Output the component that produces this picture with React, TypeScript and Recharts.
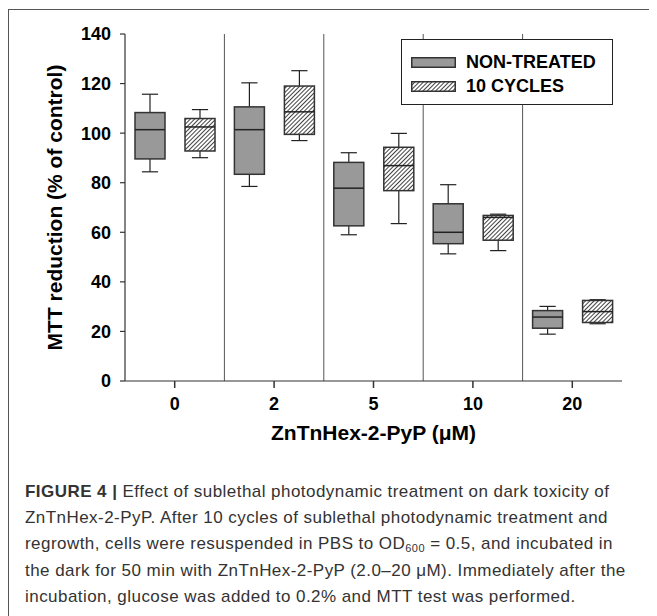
import React from 'react';
import {
  ComposedChart,
  Bar,
  XAxis,
  YAxis,
  ReferenceLine,
  Legend,
} from 'recharts';

// ---- data ----
const categories = ['0', '2', '5', '10', '20'];
const yTicks = [0, 20, 40, 60, 80, 100, 120, 140];

// NON-TREATED box statistics
const ntMin = [84.4, 78.5, 59.0, 51.3, 18.9];
const ntQ1 = [89.6, 83.4, 62.6, 55.4, 21.3];
const ntMed = [101.4, 101.4, 77.8, 60.0, 25.8];
const ntQ3 = [108.3, 110.6, 88.2, 71.5, 28.4];
const ntMax = [115.7, 120.3, 92.1, 79.2, 30.1];

// 10 CYCLES box statistics
const cyMin = [90.1, 97.0, 63.5, 52.6, 23.1];
const cyQ1 = [92.8, 99.5, 76.8, 56.8, 23.6];
const cyMed = [102.5, 108.6, 86.9, 66.0, 28.0];
const cyQ3 = [105.9, 119.0, 94.3, 66.8, 32.5];
const cyMax = [109.5, 125.2, 99.9, 67.3, 32.8];

// group separators sit at the start of these categories
const separatorCats = ['2', '5', '10', '20'];

const data = categories.map((c, i) => ({
  conc: c,
  nt: [ntMin[i], ntMax[i]],
  cy: [cyMin[i], cyMax[i]],
  ntStats: { min: ntMin[i], q1: ntQ1[i], med: ntMed[i], q3: ntQ3[i], max: ntMax[i] },
  cyStats: { min: cyMin[i], q1: cyQ1[i], med: cyMed[i], q3: cyQ3[i], max: cyMax[i] },
}));

const FONT = '"Liberation Sans", Arial, Helvetica, sans-serif';

const BoxShape = (props: any) => {
  const { x, y, width, height, payload, statsKey, fill } = props;
  const s = payload && payload[statsKey];
  if (!s) return null;
  const top = Math.min(y, y + height);
  const h = Math.abs(height);
  const range = s.max - s.min || 1;
  const yOf = (v: number) => top + ((s.max - v) / range) * h;
  const cx = x + width / 2;
  const capHalf = width * 0.27;
  const stroke = '#222';
  return (
    <g>
      <line x1={cx} x2={cx} y1={yOf(s.max)} y2={yOf(s.q3)} stroke={stroke} strokeWidth={1.2} />
      <line x1={cx} x2={cx} y1={yOf(s.q1)} y2={yOf(s.min)} stroke={stroke} strokeWidth={1.2} />
      <line x1={cx - capHalf} x2={cx + capHalf} y1={yOf(s.max)} y2={yOf(s.max)} stroke={stroke} strokeWidth={1.2} />
      <line x1={cx - capHalf} x2={cx + capHalf} y1={yOf(s.min)} y2={yOf(s.min)} stroke={stroke} strokeWidth={1.2} />
      <rect
        x={x}
        y={yOf(s.q3)}
        width={width}
        height={yOf(s.q1) - yOf(s.q3)}
        fill={fill}
        stroke="#333"
        strokeWidth={1.5}
      />
      <line x1={x} x2={x + width} y1={yOf(s.med)} y2={yOf(s.med)} stroke="#222" strokeWidth={1.5} />
    </g>
  );
};

const YLabel = (props: any) => {
  const vb = props.viewBox || {};
  const cx = vb.x + 46;
  const cy = vb.y + vb.height / 2;
  return (
    <text
      x={cx}
      y={cy}
      transform={`rotate(-90, ${cx}, ${cy})`}
      textAnchor="middle"
      dominantBaseline="central"
      fontFamily={FONT}
      fontWeight="bold"
      fontSize={21}
      fill="#000"
    >
      MTT reduction (% of control)
    </text>
  );
};

const XLabel = (props: any) => {
  const vb = props.viewBox || {};
  const cx = vb.x + vb.width / 2;
  const by = vb.y + 59;
  return (
    <text x={cx} y={by} textAnchor="middle" fontFamily={FONT} fontWeight="bold" fontSize={21} fill="#000">
      ZnTnHex-2-PyP (μM)
    </text>
  );
};

const LegendBox = () => (
  <div
    style={{
      width: 210,
      height: 64,
      border: '1.5px solid #222',
      background: '#fff',
      fontFamily: FONT,
      fontWeight: 'bold',
      fontSize: 18,
      color: '#000',
      position: 'relative',
    }}
  >
    <div style={{ position: 'absolute', left: 9, top: 11, display: 'flex', alignItems: 'center', height: 22 }}>
      <svg width={45} height={11} style={{ display: 'block' }}>
        <rect x={0.75} y={0.75} width={43.5} height={9.5} fill="#999" stroke="#333" strokeWidth={1.5} />
      </svg>
      <span style={{ marginLeft: 10 }}>NON-TREATED</span>
    </div>
    <div style={{ position: 'absolute', left: 9, top: 35, display: 'flex', alignItems: 'center', height: 22 }}>
      <svg width={45} height={11} style={{ display: 'block' }}>
        <defs>
          <pattern id="hatchLegend" patternUnits="userSpaceOnUse" width={3} height={3} patternTransform="rotate(45)">
            <rect width={3} height={3} fill="#fff" />
            <line x1={0} y1={0} x2={0} y2={3} stroke="#111" strokeWidth={1.6} />
          </pattern>
        </defs>
        <rect x={0.75} y={0.75} width={43.5} height={9.5} fill="url(#hatchLegend)" stroke="#333" strokeWidth={1.5} />
      </svg>
      <span style={{ marginLeft: 10 }}>10 CYCLES</span>
    </div>
  </div>
);

export default function App() {
  return (
    <div style={{ position: 'relative', width: 649, height: 608, background: '#fff' }}>
      <div style={{ position: 'absolute', left: 0, top: 1, width: 649, height: 1, background: '#555' }} />
      <div style={{ position: 'absolute', left: 0, top: 1, width: 1, height: 607, background: '#555' }} />
      <div style={{ position: 'absolute', left: 0, top: 0 }}>
        <ComposedChart
          width={641}
          height={470}
          data={data}
          margin={{ top: 26, right: 27, bottom: 27, left: 0 }}
          barSize={30}
          barGap={20}
        >
          <defs>
            <pattern id="hatch" patternUnits="userSpaceOnUse" width={3} height={3} patternTransform="rotate(45)">
              <rect width={3} height={3} fill="#fff" />
              <line x1={0} y1={0} x2={0} y2={3} stroke="#111" strokeWidth={1.6} />
            </pattern>
          </defs>
          <XAxis
            dataKey="conc"
            type="category"
            xAxisId="cat"
            height={70}
            tickSize={7}
            tickMargin={9}
            axisLine={{ stroke: '#333', strokeWidth: 1.2 }}
            tickLine={{ stroke: '#333', strokeWidth: 1.5 }}
            tick={{ fontFamily: FONT, fontWeight: 'bold', fontSize: 18, fill: '#000' }}
            label={<XLabel />}
          />
          <XAxis
            dataKey="conc"
            xAxisId="frame"
            type="category"
            orientation="top"
            height={0}
            tick={false}
            tickLine={false}
            axisLine={{ stroke: '#555', strokeWidth: 1.2 }}
          />
          <YAxis
            yAxisId="main"
            type="number"
            domain={[0, 140]}
            ticks={yTicks}
            interval={0}
            width={117}
            tickSize={5}
            tickMargin={9}
            axisLine={{ stroke: '#333', strokeWidth: 1.2 }}
            tickLine={{ stroke: '#333', strokeWidth: 1.2 }}
            tick={{ fontFamily: FONT, fontWeight: 'bold', fontSize: 18, fill: '#000' }}
            label={<YLabel />}
          />
          <YAxis
            yAxisId="frameR"
            orientation="right"
            type="number"
            domain={[0, 140]}
            width={0}
            tick={false}
            tickLine={false}
            axisLine={{ stroke: '#555', strokeWidth: 1.2 }}
          />
          {separatorCats.map((c) => (
            <ReferenceLine
              key={c}
              x={c}
              xAxisId="cat"
              yAxisId="main"
              position="start"
              stroke="#555"
              strokeWidth={1}
            />
          ))}
          <Legend
            layout="vertical"
            align="center"
            verticalAlign="middle"
            content={<LegendBox />}
            wrapperStyle={{ position: 'absolute', left: 393, top: 31, width: 212, height: 66 }}
          />
          <Bar
            dataKey="nt"
            name="NON-TREATED"
            xAxisId="cat"
            yAxisId="main"
            fill="#999"
            isAnimationActive={false}
            shape={(p: any) => <BoxShape {...p} statsKey="ntStats" fill="#999" />}
          />
          <Bar
            dataKey="cy"
            name="10 CYCLES"
            xAxisId="cat"
            yAxisId="main"
            fill="url(#hatch)"
            isAnimationActive={false}
            shape={(p: any) => <BoxShape {...p} statsKey="cyStats" fill="url(#hatch)" />}
          />
        </ComposedChart>
      </div>
      <div
        style={{
          position: 'absolute',
          left: 17,
          top: 471,
          fontFamily: FONT,
          fontSize: 17,
          letterSpacing: '0.45px',
          lineHeight: '26px',
          color: '#333',
          whiteSpace: 'nowrap',
        }}
      >
        <div>
          <b>FIGURE 4 |</b> Effect of sublethal photodynamic treatment on dark toxicity of
        </div>
        <div>ZnTnHex-2-PyP. After 10 cycles of sublethal photodynamic treatment and</div>
        <div>
          regrowth, cells were resuspended in PBS to OD
          <span style={{ fontSize: 11, position: 'relative', top: 3 }}>600</span> = 0.5, and incubated in
        </div>
        <div>the dark for 50 min with ZnTnHex-2-PyP (2.0–20 μM). Immediately after the</div>
        <div>incubation, glucose was added to 0.2% and MTT test was performed.</div>
      </div>
    </div>
  );
}
